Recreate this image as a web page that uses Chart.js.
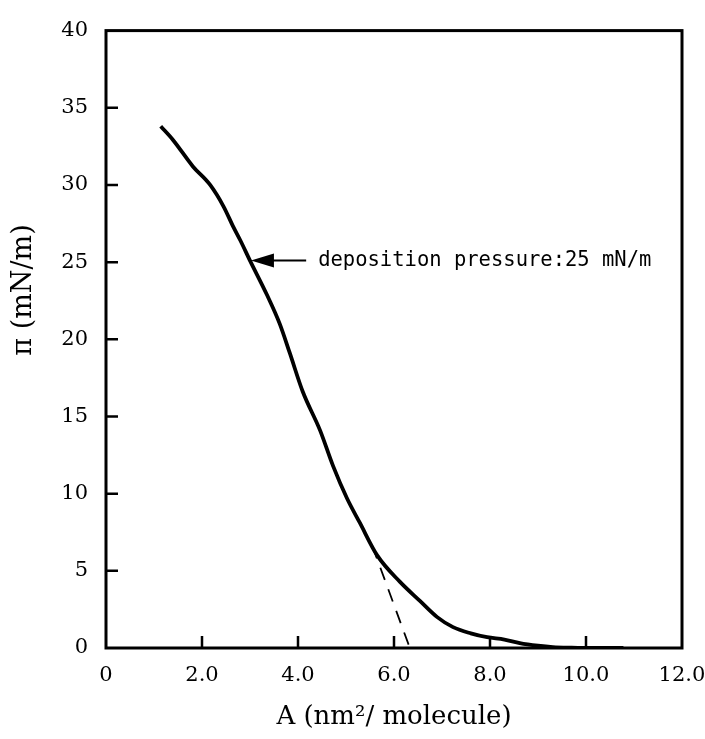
<!DOCTYPE html>
<html>
<head>
<meta charset="utf-8">
<script src="https://cdn.jsdelivr.net/npm/chart.js@4.4.1/dist/chart.umd.min.js"></script>
<style>
  body { margin: 0; background: #fff; }
  canvas { display: block; }
</style>
</head>
<body>
<canvas id="isotherm" width="705" height="739"></canvas>
<script>
// isotherm curve
const areaValues = [1.14, 1.40, 1.81, 2.17, 2.45, 2.65, 2.80, 3.00, 3.35, 3.62, 3.83, 4.10, 4.46, 4.73, 5.02, 5.29,
  5.65, 6.12, 6.54, 6.90, 7.23, 7.60, 7.94, 8.30, 8.62, 9.00, 9.31, 9.70, 10.15, 10.50, 10.78];
const pressureValues = [33.8, 32.9, 31.2, 30.0, 28.6, 27.3, 26.4, 25.1, 22.9, 21.0, 19.1, 16.6, 14.1, 11.8, 9.7, 8.1,
  6.0, 4.3, 3.05, 2.0, 1.35, 0.95, 0.7, 0.55, 0.32, 0.15, 0.06, 0.02, 0.0, 0.0, 0.0];

// extrapolated tangent (dashed)
const tangentArea = [5.55, 6.33];
const tangentPressure = [6.6, 0];

// axes
const xTicks = [0, 2, 4, 6, 8, 10, 12];
const xTickLabels = ['0', '2.0', '4.0', '6.0', '8.0', '10.0', '12.0'];
const yTicks = [0, 5, 10, 15, 20, 25, 30, 35, 40];

// annotation
const arrowTip = [3.02, 25.1];
const arrowTailX = 4.17;
const noteX = 4.42;
const noteText = 'deposition pressure:25 mN/m';

const toPoints = (xs, ys) => xs.map((x, i) => ({ x: x, y: ys[i] }));

const framePlugin = {
  id: 'frame',
  afterDatasetsDraw(chart) {
    const { ctx, chartArea: a, scales: { x, y } } = chart;
    ctx.save();
    ctx.strokeStyle = '#000';
    // plot frame
    ctx.lineWidth = 3;
    ctx.strokeRect(a.left, a.top, a.right - a.left, a.bottom - a.top);
    // inward ticks
    ctx.lineWidth = 2.5;
    ctx.beginPath();
    xTicks.slice(1, -1).forEach(v => {
      const px = x.getPixelForValue(v);
      ctx.moveTo(px, a.bottom);
      ctx.lineTo(px, a.bottom - 12);
    });
    yTicks.slice(1, -1).forEach(v => {
      const py = y.getPixelForValue(v);
      ctx.moveTo(a.left, py);
      ctx.lineTo(a.left + 12, py);
    });
    ctx.stroke();

    // arrow to the curve
    const tx = x.getPixelForValue(arrowTip[0]);
    const ty = y.getPixelForValue(arrowTip[1]);
    const ex = x.getPixelForValue(arrowTailX);
    ctx.lineWidth = 2;
    ctx.beginPath();
    ctx.moveTo(tx + 20, ty);
    ctx.lineTo(ex, ty);
    ctx.stroke();
    ctx.fillStyle = '#000';
    ctx.beginPath();
    ctx.moveTo(tx, ty);
    ctx.lineTo(tx + 23, ty - 7);
    ctx.lineTo(tx + 23, ty + 7);
    ctx.closePath();
    ctx.fill();

    ctx.font = '20.5px "DejaVu Sans Mono"';
    ctx.textBaseline = 'middle';
    ctx.textAlign = 'left';
    ctx.fillText(noteText, x.getPixelForValue(noteX), ty);

    // y axis title
    ctx.translate(24, 290);
    ctx.rotate(-Math.PI / 2);
    ctx.textAlign = 'center';
    ctx.font = '27px "DejaVu Serif"';
    ctx.fillText('π (mN/m)', 0, 0);
    ctx.restore();
  }
};

new Chart(document.getElementById('isotherm'), {
  type: 'line',
  data: {
    datasets: [
      {
        data: toPoints(areaValues, pressureValues),
        borderColor: '#000',
        borderWidth: 3.8,
        pointRadius: 0,
        cubicInterpolationMode: 'monotone',
        fill: false
      },
      {
        data: toPoints(tangentArea, tangentPressure),
        borderColor: '#000',
        borderWidth: 1.8,
        borderDash: [13, 10],
        pointRadius: 0,
        fill: false
      }
    ]
  },
  options: {
    responsive: false,
    animation: false,
    layout: { padding: { top: 19, right: 0, left: 0, bottom: 0 } },
    plugins: { legend: { display: false }, tooltip: { enabled: false } },
    scales: {
      x: {
        type: 'linear',
        min: 0,
        max: 12,
        afterBuildTicks: s => { s.ticks = xTicks.map(v => ({ value: v })); },
        afterFit: s => { s.height = 91; s.paddingRight = 23; s.paddingLeft = 0; },
        grid: { display: false, drawTicks: false },
        border: { display: false },
        ticks: {
          color: '#000',
          padding: 15,
          maxRotation: 0,
          font: { family: 'DejaVu Serif', size: 21 },
          callback: (v) => xTickLabels[xTicks.indexOf(v)]
        },
        title: {
          display: true,
          text: 'A (nm²/ molecule)',
          color: '#000',
          font: { family: 'DejaVu Serif', size: 26 },
          padding: { top: 0, bottom: 6 }
        }
      },
      y: {
        min: 0,
        max: 40,
        afterBuildTicks: s => { s.ticks = yTicks.map(v => ({ value: v })); },
        afterFit: s => { s.width = 106; },
        grid: { display: false, drawTicks: false },
        border: { display: false },
        ticks: {
          color: '#000',
          padding: 18,
          font: { family: 'DejaVu Serif', size: 21 }
        }
      }
    }
  },
  plugins: [framePlugin]
});
</script>
</body>
</html>
